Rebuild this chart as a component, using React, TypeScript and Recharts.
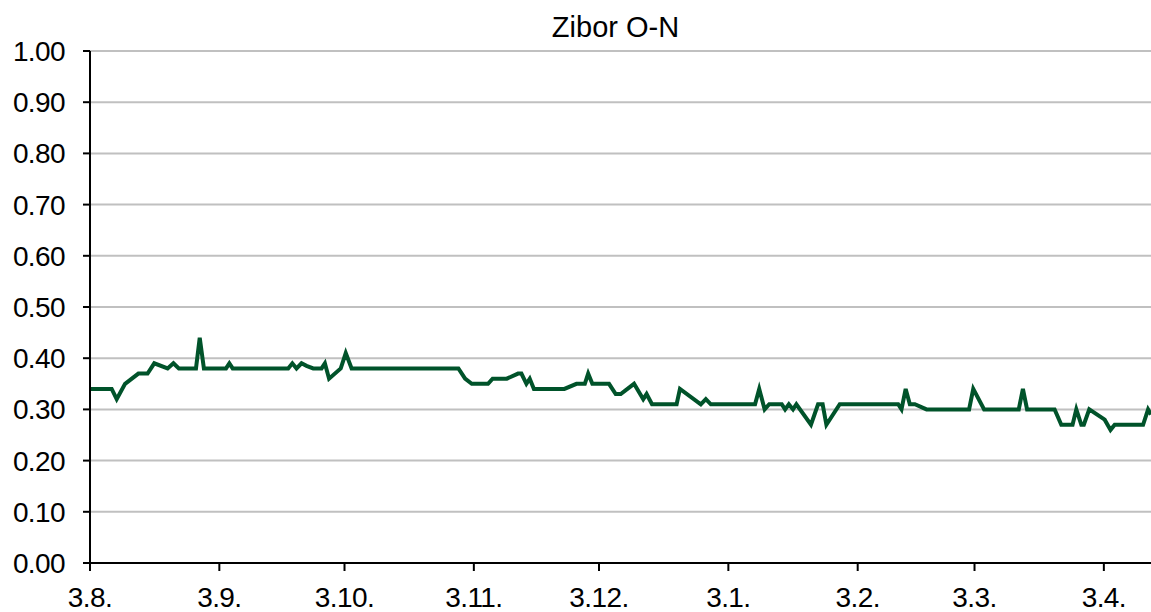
import React from 'react';
import { LineChart, Line, XAxis, YAxis, CartesianGrid } from 'recharts';

// days since 3 Aug, and Zibor O-N rate
const days: number[] = [
  0, 5.2, 6.4, 8.4, 11.6, 13.8, 15.4, 18.6, 20, 21.3, 25.4, 26.3, 27.3, 32.6, 33.4, 34.2,
  47.5, 48.5, 49.5, 50.7, 51.9, 53.5, 55.5, 56.3, 57.3, 60.1, 61.3, 62.7, 88.3, 89.9, 91.5,
  95.4, 96.5, 99.9, 102.6, 103.4, 104.6, 105.4, 106.4, 113.7, 116.6, 118.6, 119.4, 120.4,
  124.4, 126, 127.2, 130.4, 132.6, 133.4, 134.7, 140.6, 141.4, 146.4, 147.6, 148.8, 159.4,
  160.4, 161.7, 162.8, 165.8, 166.6, 167.5, 168.5, 169.3, 172.8, 174.5, 175.6, 176.5, 179.7,
  193.7, 194.5, 195.5, 196.5, 197.7, 200.5, 210.7, 211.7, 214.3, 222.6, 223.6, 224.6, 231.2,
  232.8, 235.5, 236.4, 237.6, 238.2, 239.5, 243.2, 244.6, 245.6, 252.4, 253.6, 254.3,
];
const rates: number[] = [
  0.34, 0.34, 0.32, 0.35, 0.37, 0.37, 0.39, 0.38, 0.39, 0.38, 0.38, 0.44, 0.38, 0.38, 0.39, 0.38,
  0.38, 0.39, 0.38, 0.39, 0.385, 0.38, 0.38, 0.39, 0.36, 0.38, 0.41, 0.38, 0.38, 0.36, 0.35,
  0.35, 0.36, 0.36, 0.37, 0.37, 0.35, 0.36, 0.34, 0.34, 0.35, 0.35, 0.37, 0.35,
  0.35, 0.33, 0.33, 0.35, 0.32, 0.33, 0.31, 0.31, 0.34, 0.31, 0.32, 0.31, 0.31,
  0.34, 0.30, 0.31, 0.31, 0.30, 0.31, 0.30, 0.31, 0.27, 0.31, 0.31, 0.27, 0.31,
  0.31, 0.30, 0.34, 0.31, 0.31, 0.30, 0.30, 0.34, 0.30, 0.30, 0.34, 0.30, 0.30,
  0.27, 0.27, 0.30, 0.27, 0.27, 0.30, 0.28, 0.26, 0.27, 0.27, 0.30, 0.29,
];

const xTickDays: number[] = [0, 31, 61, 92, 122, 153, 184, 212, 243];
const xTickLabels: string[] = ['3.8.', '3.9.', '3.10.', '3.11.', '3.12.', '3.1.', '3.2.', '3.3.', '3.4.'];
const yTicks: number[] = [0, 0.1, 0.2, 0.3, 0.4, 0.5, 0.6, 0.7, 0.8, 0.9, 1.0];
const title = 'Zibor O-N';

const data = days.map((d, i) => ({ day: d, rate: rates[i] }));

const font = '"Liberation Sans", Arial, sans-serif';

export default function App() {
  return (
    <div style={{ position: 'absolute', left: 0, top: 0, width: 1151, height: 612, background: '#fff', fontFamily: font }}>
      <div
        style={{
          position: 'absolute', left: 0, width: 1231, top: 13, textAlign: 'center',
          fontSize: 29, lineHeight: '28px', color: '#000',
        }}
      >
        {title}
      </div>
      <LineChart width={1151} height={612} data={data} margin={{ top: 51, right: 0, bottom: 9, left: 0 }}>
        <CartesianGrid vertical={false} stroke="#c0c0c0" strokeWidth={2} />
        <XAxis
          dataKey="day"
          type="number"
          domain={[0, 254.3]}
          allowDataOverflow
          ticks={xTickDays}
          tickFormatter={(v: number) => xTickLabels[xTickDays.indexOf(v)] ?? ''}
          interval={0}
          height={40}
          stroke="#000"
          strokeWidth={2}
          tickSize={8}
          tickMargin={16}
          tick={{ fill: '#000', fontSize: 28, fontFamily: font, letterSpacing: -0.6 }}
        />
        <YAxis
          type="number"
          domain={[0, 1]}
          ticks={yTicks}
          interval={0}
          width={90}
          tickFormatter={(v: number) => v.toFixed(2)}
          stroke="#000"
          strokeWidth={2}
          tickSize={7}
          tickMargin={18}
          tick={{ fill: '#000', fontSize: 28, fontFamily: font, letterSpacing: -0.6 }}
        />
        <Line
          type="linear"
          dataKey="rate"
          stroke="#00532a"
          strokeWidth={4}
          dot={false}
          activeDot={false}
          isAnimationActive={false}
        />
      </LineChart>
    </div>
  );
}
